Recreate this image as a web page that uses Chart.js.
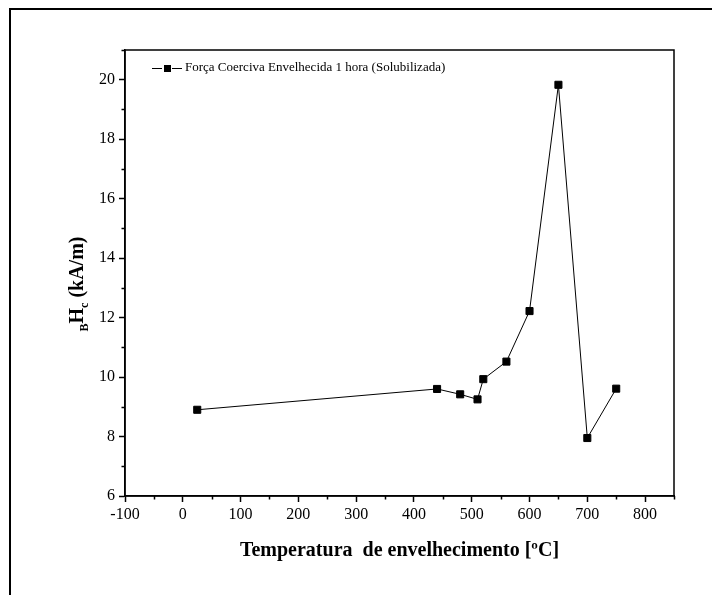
<!DOCTYPE html>
<html>
<head>
<meta charset="utf-8">
<script src="https://cdn.jsdelivr.net/npm/chart.js@4.4.1/dist/chart.umd.min.js"></script>
<style>
  html, body { margin: 0; padding: 0; background: #fff; }
  canvas { display: block; }
</style>
</head>
<body>
<canvas id="hcChart" width="712" height="595"></canvas>
<script>
/* ---- data ---- */
const temperatures = [25, 440, 480, 510, 520, 560, 600, 650, 700, 750];
const coerciveForce = [8.9, 9.6, 9.42, 9.25, 9.93, 10.52, 12.22, 19.83, 7.95, 9.61];
const seriesLabel = 'Força Coerciva Envelhecida 1 hora (Solubilizada)';
const xTitle = 'Temperatura  de envelhecimento [ºC]';
const xMinorTicks = [-50, 50, 150, 250, 350, 450, 550, 650, 750, 850];
const yMinorTicks = [7, 9, 11, 13, 15, 17, 19, 21];

const SERIF = "'Liberation Serif', 'Times New Roman', serif";

// frame, minor ticks, legend and axis titles
const decorations = {
    id: 'decorations',
    afterDraw(chart) {
        const ctx = chart.ctx;
        const area = chart.chartArea;
        const xs = chart.scales.x;
        const ys = chart.scales.y;
        ctx.save();

        // outer page frame (top + left only)
        ctx.fillStyle = '#000';
        ctx.fillRect(9, 8, 712 - 9, 2);
        ctx.fillRect(9, 8, 2, 595 - 8);

        // box around plot
        ctx.strokeStyle = '#000';
        ctx.lineWidth = 1.5;
        ctx.strokeRect(area.left, area.top, area.right - area.left, area.bottom - area.top);

        // minor ticks
        ctx.beginPath();
        xMinorTicks.forEach(v => {
            const px = Math.round(xs.getPixelForValue(v)) + 0.5;
            ctx.moveTo(px, area.bottom);
            ctx.lineTo(px, area.bottom + 3.5);
        });
        yMinorTicks.forEach(v => {
            const py = Math.round(ys.getPixelForValue(v)) + 0.5;
            ctx.moveTo(area.left, py);
            ctx.lineTo(area.left - 3.5, py);
        });
        ctx.stroke();

        // legend: —■— label
        const ly = 68;
        ctx.lineWidth = 1;
        ctx.beginPath();
        ctx.moveTo(152, ly + 0.5);
        ctx.lineTo(162, ly + 0.5);
        ctx.moveTo(172, ly + 0.5);
        ctx.lineTo(182, ly + 0.5);
        ctx.stroke();
        ctx.fillRect(164, ly - 3, 7, 7);
        ctx.font = '13px ' + SERIF;
        ctx.textBaseline = 'middle';
        ctx.textAlign = 'left';
        ctx.fillText(seriesLabel, 185, ly);

        // x title
        ctx.font = 'bold 20px ' + SERIF;
        ctx.textAlign = 'center';
        ctx.textBaseline = 'middle';
        ctx.fillText(xTitle, (area.left + area.right) / 2, 551);

        // y title: subscript B, H, subscript c, (kA/m)
        ctx.translate(78, 284);
        ctx.rotate(-Math.PI / 2);
        const big = 'bold 20px ' + SERIF;
        const small = 'bold 12px ' + SERIF;
        const parts = [
            { t: 'B', f: small, dy: 7 },
            { t: 'H', f: big, dy: 0 },
            { t: 'c', f: small, dy: 7 },
            { t: ' (kA/m)', f: big, dy: 0 },
        ];
        let total = 0;
        parts.forEach(p => { ctx.font = p.f; p.w = ctx.measureText(p.t).width; total += p.w; });
        let cx = -total / 2;
        ctx.textAlign = 'left';
        parts.forEach(p => {
            ctx.font = p.f;
            ctx.fillText(p.t, cx, p.dy);
            cx += p.w;
        });
        ctx.restore();
    }
};

new Chart(document.getElementById('hcChart'), {
    type: 'line',
    data: {
        datasets: [{
            label: seriesLabel,
            data: temperatures.map((t, i) => ({ x: t, y: coerciveForce[i] })),
            borderColor: '#000',
            backgroundColor: '#000',
            borderWidth: 1,
            pointStyle: 'rect',
            pointRadius: 5,
            pointBorderWidth: 1,
            pointBackgroundColor: '#000',
            pointBorderColor: '#000',
            tension: 0,
        }]
    },
    options: {
        responsive: false,
        animation: false,
        devicePixelRatio: 1,
        layout: { padding: { left: 0, right: 38, top: 50, bottom: 0 } },
        plugins: {
            legend: { display: false },
            tooltip: { enabled: false },
        },
        scales: {
            x: {
                type: 'linear',
                min: -100,
                max: 850,
                afterFit: s => { s.height = 99; },
                ticks: {
                    stepSize: 100,
                    includeBounds: false,
                    color: '#000',
                    padding: 3,
                    maxRotation: 0,
                    font: { family: SERIF, size: 16 },
                },
                grid: { drawOnChartArea: false, tickLength: 6, color: '#000', tickWidth: 1.5 },
                border: { display: true, color: '#000', width: 1.5 },
            },
            y: {
                min: 6,
                max: 21,
                afterFit: s => { s.width = 125; },
                ticks: {
                    stepSize: 2,
                    includeBounds: false,
                    color: '#000',
                    padding: 4,
                    font: { family: SERIF, size: 16 },
                },
                grid: { drawOnChartArea: false, tickLength: 6, color: '#000', tickWidth: 1.5 },
                border: { display: true, color: '#000', width: 1.5 },
            }
        }
    },
    plugins: [decorations]
});
</script>
</body>
</html>
